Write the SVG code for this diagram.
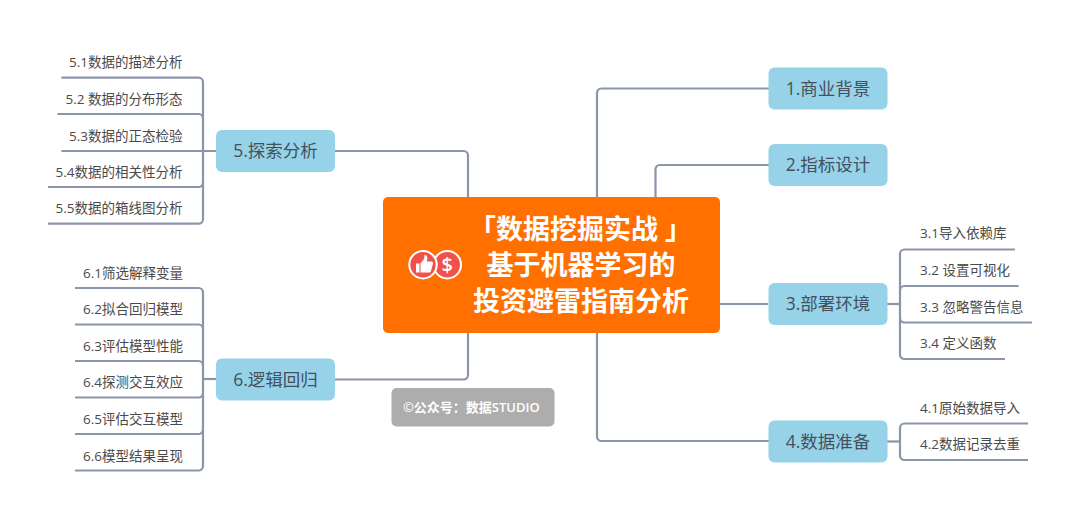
<svg xmlns="http://www.w3.org/2000/svg" width="1080" height="520" viewBox="0 0 1080 520">
<style>
text{font-family:"Open Sans","Noto Sans CJK SC",sans-serif}
.c{fill:none;stroke:#8a94aa;stroke-width:2.2}
.n{fill:#96d2e8}
.nt{font-size:17.500px;fill:#44505c;text-anchor:middle}
.s{font-size:13.500px;fill:#4a4a4a}
.e{text-anchor:end}
.t{font-size:27px;font-weight:700;fill:#fff;text-anchor:middle}
</style>
<rect width="1080" height="520" fill="#fff"/>
<g id="connectors" class="c">
<path class="c" d="M597 198V93a4.500 4.500 0 0 1 4.500-4.500H769"/>
<path class="c" d="M655.500 198V169.500a4.500 4.500 0 0 1 4.500-4.500H769"/>
<path class="c" d="M720 304H768"/>
<path class="c" d="M597 332V436.500a4.500 4.500 0 0 0 4.500 4.500H769"/>
<path class="c" d="M334 151H463.500a4.500 4.500 0 0 1 4.500 4.500V198"/>
<path class="c" d="M334 379.500H463.500a4.500 4.500 0 0 0 4.500-4.500V332"/>
<path class="c" d="M887 304H900"/>
<path class="c" d="M1015 249.500H904.500a4.500 4.500 0 0 0-4.500 4.500V354.500a4.500 4.500 0 0 0 4.500 4.500H1005"/>
<path class="c" d="M1018.500 286H904.500a4.500 4.500 0 0 0-4.500 4.500"/>
<path class="c" d="M1032 322.500H904.500a4.500 4.500 0 0 1-4.500-4.500"/>
<path class="c" d="M887 441.500H900"/>
<path class="c" d="M1028 423.500H904.500a4.500 4.500 0 0 0-4.500 4.500V455.500a4.500 4.500 0 0 0 4.500 4.500H1028"/>
<path class="c" d="M216 151H61.500"/>
<path class="c" d="M61.500 77.700H198.500a4.500 4.500 0 0 1 4.500 4.500V219.200a4.500 4.500 0 0 1-4.500 4.500H48"/>
<path class="c" d="M57.500 114H198.500a4.500 4.500 0 0 1 4.500 4.500"/>
<path class="c" d="M48 187H198.500a4.500 4.500 0 0 0 4.500-4.500"/>
<path class="c" d="M216 379H203"/>
<path class="c" d="M75 288H198.500a4.500 4.500 0 0 1 4.500 4.500V466a4.500 4.500 0 0 1-4.500 4.500H75"/>
<path class="c" d="M75 324.500H198.500a4.500 4.500 0 0 1 4.500 4.500"/>
<path class="c" d="M75 361H198.500a4.500 4.500 0 0 1 4.500 4.500"/>
<path class="c" d="M75 397.500H198.500a4.500 4.500 0 0 0 4.500-4.500"/>
<path class="c" d="M75 434H198.500a4.500 4.500 0 0 0 4.500-4.500"/>
</g>
<g id="center">
<rect x="383" y="197" width="337" height="136" rx="5" fill="#ff7000"/>
<circle cx="447.300" cy="264.700" r="13.700" fill="#f0524a" stroke="#fff" stroke-width="2"/>
<text x="447.300" y="272" font-size="20" font-weight="600" fill="#fff" text-anchor="middle">$</text>
<circle cx="423" cy="264.700" r="13.700" fill="#f0524a" stroke="#fff" stroke-width="2"/>
<path d="M416 263.500h3.500v9H416z M420.500 263.500l3.500-4.500 0.500-4c2 0 3 1.500 2.800 3.500l-0.500 3h4.700c1.200 0 1.800 1 1.500 2l-2 7.500c-0.200 0.800-0.800 1.500-1.800 1.500h-8.700z" fill="#fff"/>
<text class="t" x="580.500" y="239">「数据挖掘实战 」</text>
<text class="t" x="581" y="275">基于机器学习的</text>
<text class="t" x="581" y="311">投资避雷指南分析</text>
</g>
<g id="n1"><rect class="n" x="768.500" y="67.500" width="119" height="42" rx="6"/><text class="nt" x="828" y="94.500">1.商业背景</text></g>
<g id="n2"><rect class="n" x="768.500" y="144" width="119" height="42" rx="6"/><text class="nt" x="828" y="171">2.指标设计</text></g>
<g id="n3"><rect class="n" x="768.500" y="283" width="119" height="42" rx="6"/><text class="nt" x="828" y="310">3.部署环境</text>
<text class="s" x="920" y="238">3.1导入依赖库</text><text class="s" x="920" y="275">3.2 设置可视化</text><text class="s" x="920" y="311.500">3.3 忽略警告信息</text><text class="s" x="920" y="348">3.4 定义函数</text></g>
<g id="n4"><rect class="n" x="768.500" y="420.500" width="119" height="42" rx="6"/><text class="nt" x="828" y="447.500">4.数据准备</text>
<text class="s" x="920" y="412.500">4.1原始数据导入</text><text class="s" x="920" y="449">4.2数据记录去重</text></g>
<g id="n5"><rect class="n" x="216" y="130" width="119" height="42" rx="6"/><text class="nt" x="275.500" y="157">5.探索分析</text>
<text class="s e" x="182.500" y="67">5.1数据的描述分析</text><text class="s e" x="182.500" y="103.500">5.2 数据的分布形态</text><text class="s e" x="182.500" y="140.500">5.3数据的正态检验</text><text class="s e" x="182.500" y="176.500">5.4数据的相关性分析</text><text class="s e" x="182.500" y="213">5.5数据的箱线图分析</text></g>
<g id="n6"><rect class="n" x="216" y="358.500" width="119" height="42" rx="6"/><text class="nt" x="275.500" y="385.500">6.逻辑回归</text>
<text class="s" x="83" y="277.500">6.1筛选解释变量</text><text class="s" x="83" y="314">6.2拟合回归模型</text><text class="s" x="83" y="350.500">6.3评估模型性能</text><text class="s" x="83" y="387">6.4探测交互效应</text><text class="s" x="83" y="423.500">6.5评估交互模型</text><text class="s" x="83" y="460.500">6.6模型结果呈现</text></g>
<g id="watermark"><rect x="391.500" y="388" width="163" height="38.500" rx="5" fill="#adadad"/><text x="403" y="412" font-size="13" font-weight="600" fill="#fff">©公众号：数据STUDIO</text></g>
</svg>
